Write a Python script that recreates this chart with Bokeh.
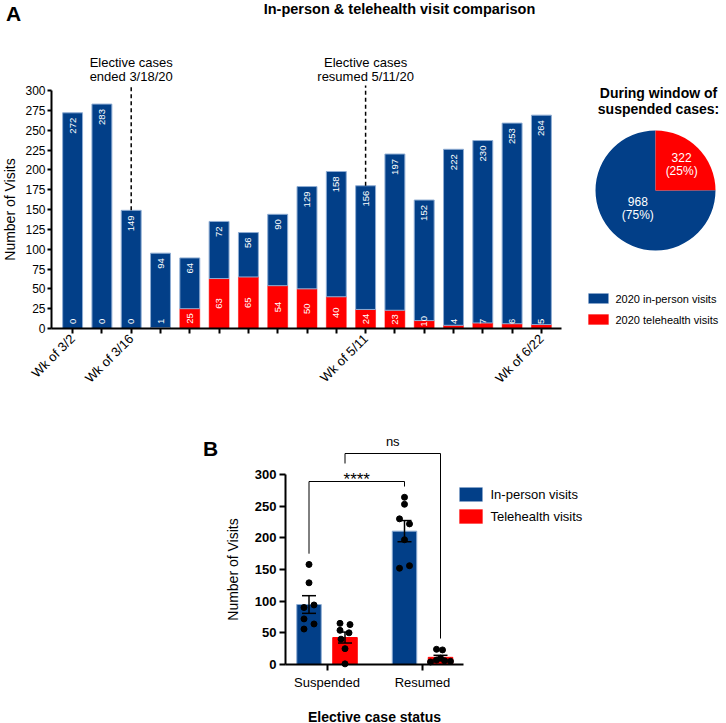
import math
import numpy as np
from bokeh.plotting import figure
from bokeh.models import Range1d, FixedTicker, Label, BoxAnnotation
from bokeh.layouts import column
from bokeh.embed import file_html
from bokeh.resources import INLINE
from bokeh.core.properties import value

# ---------------- data ----------------
weeks = ["Wk of 3/2", "Wk of 3/9", "Wk of 3/16", "Wk of 3/23", "Wk of 3/30", "Wk of 4/6",
         "Wk of 4/13", "Wk of 4/20", "Wk of 4/27", "Wk of 5/4", "Wk of 5/11", "Wk of 5/18",
         "Wk of 5/25", "Wk of 6/1", "Wk of 6/8", "Wk of 6/15", "Wk of 6/22"]
shown_week_labels = ["Wk of 3/2", "Wk of 3/16", "Wk of 5/11", "Wk of 6/22"]
inperson_2020 = [272, 283, 149, 94, 64, 72, 56, 90, 129, 158, 156, 197, 152, 222, 230, 253, 264]
telehealth_2020 = [0, 0, 0, 1, 25, 63, 65, 54, 50, 40, 24, 23, 10, 4, 7, 6, 5]
event_weeks = ["Wk of 3/16", "Wk of 5/11"]
event_text = [("Elective cases", "ended 3/18/20"), ("Elective cases", "resumed 5/11/20")]
series_names = ["2020 in-person visits", "2020 telehealth visits"]
pie_values = [968, 322]          # in-person, telehealth during suspension

status = ["Suspended", "Resumed"]
suspended_inperson = [94, 64, 72, 56, 90, 129, 158]
suspended_telehealth = [1, 25, 63, 65, 54, 50, 40]
resumed_inperson = [156, 197, 152, 222, 230, 253, 264]
resumed_telehealth = [24, 23, 10, 4, 7, 6, 5]
b_series = ["In-person visits", "Telehealth visits"]
sig_labels = ["****", "ns"]

# ---------------- styling / layout ----------------
FONT = "Liberation Sans"
BLUE = "#023f88"
BLUE_EDGE = "#8fadd3"
RED = "#ff0000"

# jitter of the dots (pixels), per point, same order as the data lists
jit_susp_in = [5, 5, -5, -5, -5, 0, 0]
jit_susp_te = [0, 0, 5, -5, -5, 4, -4]
jit_res_in = [5, 0, -5, 5, -5, 0, 0]
jit_res_te = [-4, 2, 0, -10, -4, 4, 10]

W = 726
A_H, B_H = 398, 325            # figure heights (page: A 0..398, B 398..723)
B_TOP = A_H

# --- page pixel <-> data mapping (frame covers the whole figure) ---
A_X0, A_PX_X = 72.1, 29.3      # page x of week 0, px per week
A_Y0, A_PX_Y = 328.0, 0.793    # page y of value 0, px per visit
B_X0, B_PX_X = 326.5, 95.5
B_Y0, B_PX_Y = 664.0, 0.6333

def axd(px): return (px - A_X0) / A_PX_X
def ayd(py): return (A_Y0 - py) / A_PX_Y
def bxd(px): return (px - B_X0) / B_PX_X
def byd(py): return (B_Y0 - py) / B_PX_Y


def make_fig(xr, yr, h):
    p = figure(width=W, height=h, x_range=xr, y_range=yr, output_backend="svg",
               toolbar_location=None, min_border=0, min_border_left=0, min_border_right=0,
               min_border_top=0, min_border_bottom=0)
    p.xgrid.visible = False
    p.ygrid.visible = False
    p.outline_line_color = None
    for ax in (p.xaxis[0], p.yaxis[0]):
        ax.axis_line_width = 2
        ax.axis_line_color = "black"
        ax.major_tick_line_width = 2
        ax.major_tick_line_color = "black"
        ax.major_tick_in = 0
        ax.minor_tick_out = 0
        ax.minor_tick_in = 0
        ax.major_label_text_font = FONT
        ax.major_label_text_color = "black"
    return p


def add_label(p, top, text, px, py, size, bold=False, color="black", align="center",
              baseline="middle", angle=0.0):
    """Place a text at page pixel (px, py) inside figure p whose page top is `top`."""
    p.add_layout(Label(x=px, y=p.height - (py - top), x_units="screen", y_units="screen",
                       text=text, text_font=FONT, text_font_size=f"{size}px",
                       text_font_style="bold" if bold else "normal",
                       text_color=color, text_align=align, text_baseline=baseline,
                       angle=angle))


def add_box(p, top, px, py, w, h, fill, edge):
    sy = p.height - (py - top)
    p.add_layout(BoxAnnotation(left=px, right=px + w, top=sy, bottom=sy - h,
                               left_units="screen", right_units="screen",
                               top_units="screen", bottom_units="screen",
                               fill_color=fill, fill_alpha=1, line_color=edge, line_width=1))


# ================= Figure A =================
fa = make_fig(Range1d(axd(0), axd(W)), Range1d(ayd(A_H), ayd(0)), A_H)

n = len(weeks)
xs = list(range(n))
totals = [a + b for a, b in zip(inperson_2020, telehealth_2020)]
bar_w = 0.68

fa.vbar(x=xs, bottom=0, top=telehealth_2020, width=bar_w, fill_color=RED, line_color=RED, line_width=0.5)
fa.vbar(x=xs, bottom=telehealth_2020, top=totals, width=bar_w, fill_color=BLUE,
        line_color=BLUE_EDGE, line_width=1)

fa.text(x=xs, y=[t - 5 / A_PX_Y for t in totals], text=[str(v) for v in inperson_2020],
        angle=math.pi / 2, text_align="right", text_baseline="middle", text_color="white",
        text_font=value(FONT), text_font_size="9.5px")
fa.text(x=xs, y=[max(t / 2, 9) for t in telehealth_2020], text=[str(v) for v in telehealth_2020],
        angle=math.pi / 2, text_align="center", text_baseline="middle", text_color="white",
        text_font=value(FONT), text_font_size="9.5px")

ev_idx = [weeks.index(w) for w in event_weeks]
fa.segment(x0=ev_idx, y0=[totals[i] for i in ev_idx], x1=ev_idx, y1=[ayd(85)] * len(ev_idx),
           line_dash="4 3", line_color="black", line_width=1.5)
for i, (l1, l2) in zip(ev_idx, event_text):
    px = A_X0 + i * A_PX_X
    add_label(fa, 0, l1, px, 62, 13)
    add_label(fa, 0, l2, px, 76, 13)

x_left = axd(51)
fa.yaxis.fixed_location = x_left
fa.yaxis.ticker = FixedTicker(ticks=list(range(0, 301, 25)))
fa.yaxis.bounds = (0, 300)
fa.yaxis.major_tick_out = 4
fa.yaxis.major_label_standoff = 2
fa.yaxis.major_label_text_font_size = "12px"

fa.xaxis.fixed_location = 0
fa.xaxis.ticker = FixedTicker(ticks=xs)
fa.xaxis.bounds = (x_left, axd(561))
fa.xaxis.major_tick_out = 5
fa.xaxis.major_label_standoff = 3
fa.xaxis.major_label_overrides = {i: (w if w in shown_week_labels else "") for i, w in enumerate(weeks)}
fa.xaxis.major_label_orientation = math.pi / 4
fa.xaxis.major_label_text_font_size = "13px"

add_label(fa, 0, "A", 13, 13, 21, bold=True)
add_label(fa, 0, "In-person & telehealth visit comparison", 399, 8, 14.5, bold=True)
add_label(fa, 0, "Number of Visits", 9, 209, 14, angle=math.pi / 2)

# pie
PCX, PCY, PR = 655, 190, 60
tot_pie = sum(pie_values)
frac_tele = pie_values[1] / tot_pie
a_top = math.pi / 2
starts = [a_top, a_top - 2 * math.pi * frac_tele]
ends = [a_top + 2 * math.pi * (1 - frac_tele), a_top]
fa.wedge(x=[axd(PCX)] * 2, y=[ayd(PCY)] * 2, radius=PR, radius_units="screen",
         start_angle=starts, end_angle=ends, fill_color=[BLUE, RED], line_color=None)
lab_r = [25, 37]
for k in range(2):
    mid = (starts[k] + ends[k]) / 2
    lx = PCX + lab_r[k] * math.cos(mid)
    ly = PCY - lab_r[k] * math.sin(mid)
    pct = 100 * pie_values[k] / tot_pie
    add_label(fa, 0, f"{pie_values[k]}", lx, ly - 7, 12, color="white")
    add_label(fa, 0, f"({pct:.0f}%)", lx, ly + 7, 12, color="white")
add_label(fa, 0, "During window of", 658, 92, 14, bold=True)
add_label(fa, 0, "suspended cases:", 658, 108, 14, bold=True)

# legend A
for k, (col, edge, ytop) in enumerate([(BLUE, BLUE_EDGE, 293), (RED, RED, 314)]):
    add_box(fa, 0, 588, ytop, 20, 10, col, edge)
    add_label(fa, 0, series_names[k], 615, ytop + 5, 11, align="left")

# ================= Figure B =================
fb = make_fig(Range1d(bxd(0), bxd(W)), Range1d(byd(B_TOP + B_H), byd(B_TOP)), B_H)

off = 18 / B_PX_X
bw = 24.5 / B_PX_X
groups = [(suspended_inperson, suspended_telehealth, jit_susp_in, jit_susp_te),
          (resumed_inperson, resumed_telehealth, jit_res_in, jit_res_te)]
cap = 7 / B_PX_X
for g, (vin, vte, jin, jte) in enumerate(groups):
    for vals, jit, dx, col, edge in [(vin, jin, -off, BLUE, BLUE_EDGE), (vte, jte, off, RED, RED)]:
        arr = np.array(vals, dtype=float)
        m = arr.mean()
        se = arr.std(ddof=1) / math.sqrt(len(arr))
        cx = g + dx
        fb.vbar(x=[cx], top=[m], width=bw, fill_color=col, line_color=edge, line_width=1)
        fb.segment(x0=[cx, cx - cap, cx - cap], y0=[m - se, m - se, m + se],
                   x1=[cx, cx + cap, cx + cap], y1=[m + se, m - se, m + se],
                   line_color="black", line_width=1.5)
        fb.scatter(x=[cx + j / B_PX_X for j in jit], y=vals, size=6, marker="circle",
                   fill_color="black", line_color="black")

pad = 17
star_y, ns_y = byd(481), byd(453)
x_s_in, x_r_in = 0 - off, 1 - off
x_s_te, x_r_te = 0 + off, 1 + off
fb.multi_line(xs=[[x_s_in, x_s_in, x_r_in, x_r_in], [x_s_te, x_s_te, x_r_te, x_r_te]],
              ys=[[max(suspended_inperson) + pad, star_y, star_y, max(resumed_inperson) + pad],
                  [byd(463), ns_y, ns_y, max(resumed_telehealth) + pad]],
              line_color="black", line_width=1)
add_label(fb, B_TOP, sig_labels[0], B_X0 + (x_s_in + x_r_in) / 2 * B_PX_X, 479, 17,
          baseline="alphabetic")
add_label(fb, B_TOP, sig_labels[1], B_X0 + (x_s_te + x_r_te) / 2 * B_PX_X, 441, 13,
          baseline="alphabetic")

y_left = bxd(285)
fb.yaxis.fixed_location = y_left
fb.yaxis.ticker = FixedTicker(ticks=list(range(0, 301, 50)))
fb.yaxis.bounds = (0, 300)
fb.yaxis.major_tick_out = 6
fb.yaxis.major_label_standoff = 3
fb.yaxis.major_label_text_font_size = "13px"
fb.yaxis.major_label_text_font_style = "bold"

fb.xaxis.fixed_location = 0
fb.xaxis.ticker = FixedTicker(ticks=[0, 1])
fb.xaxis.bounds = (y_left, bxd(463))
fb.xaxis.major_tick_out = 6
fb.xaxis.major_label_standoff = 4
fb.xaxis.major_label_overrides = {0: status[0], 1: status[1]}
fb.xaxis.major_label_text_font_size = "13px"

add_label(fb, B_TOP, "B", 210, 448, 21, bold=True)
add_label(fb, B_TOP, "Number of Visits", 232, 569, 14, angle=math.pi / 2)
add_label(fb, B_TOP, "Elective case status", 374, 716, 14, bold=True)

for k, (col, edge, ytop) in enumerate([(BLUE, BLUE_EDGE, 487), (RED, RED, 509)]):
    add_box(fb, B_TOP, 459, ytop, 23, 14, col, edge)
    add_label(fb, B_TOP, b_series[k], 490, ytop + 7, 13, align="left")

layout = column(fa, fb, spacing=0)
open("out.html", "w").write(file_html(layout, INLINE))
